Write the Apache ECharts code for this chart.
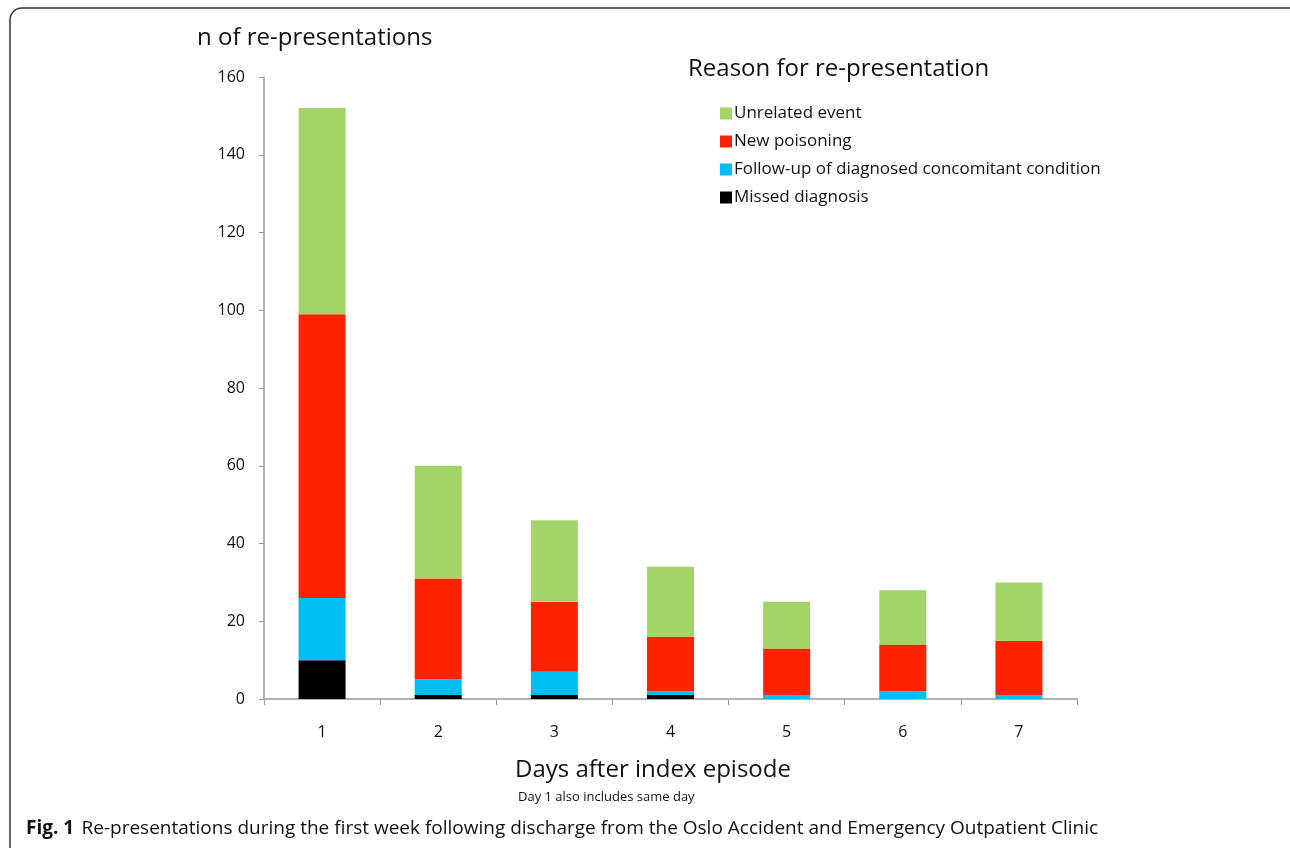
<!DOCTYPE html>
<html>
<head>
<meta charset="utf-8">
<script src="https://cdn.jsdelivr.net/npm/echarts@6/dist/echarts.min.js"></script>
<style>
  html, body { margin: 0; padding: 0; background: #fff; }
  #chart { width: 1290px; height: 848px; }
</style>
</head>
<body>
<div id="chart"></div>
<script>
// data
const days = ['1', '2', '3', '4', '5', '6', '7']
const missedDiagnosis = [10, 1, 1, 1, 0, 0, 0]
const followUp = [16, 4, 6, 1, 1, 2, 1]
const newPoisoning = [73, 26, 18, 14, 12, 12, 14]
const unrelatedEvent = [53, 29, 21, 18, 12, 14, 15]

const font = '"Open Sans", Lato, sans-serif'
const chart = echarts.init(document.getElementById('chart'))

function barSeries (name, data, color) {
  return {
    name: name,
    type: 'bar',
    stack: 'total',
    data: data,
    barWidth: 47,
    itemStyle: { color: color },
    emphasis: { disabled: true }
  }
}

chart.setOption({
  animation: false,
  textStyle: { fontFamily: font },
  grid: { left: 264, right: 213, top: 77, bottom: 149 },
  legend: {
    orient: 'vertical',
    left: 715,
    top: 100,
    itemWidth: 12,
    itemHeight: 12,
    itemGap: 11,
    icon: 'rect',
    data: ['Unrelated event', 'New poisoning', 'Follow-up of diagnosed concomitant condition', 'Missed diagnosis'],
    textStyle: { fontSize: 17, color: '#111', fontFamily: font, padding: [0, 0, 0, -3] }
  },
  xAxis: {
    type: 'category',
    data: days,
    axisLine: { lineStyle: { color: '#999', width: 1.5 } },
    axisTick: { show: true, length: 6, lineStyle: { color: '#999' } },
    axisLabel: { fontSize: 16, color: '#111', margin: 25 }
  },
  yAxis: {
    type: 'value',
    min: 0,
    max: 160,
    interval: 20,
    splitLine: { show: false },
    axisLine: { show: true, lineStyle: { color: '#999', width: 1.5 } },
    axisTick: { show: true, length: 5, lineStyle: { color: '#999' } },
    axisLabel: { fontSize: 16, color: '#111', margin: 19 }
  },
  series: [
    barSeries('Missed diagnosis', missedDiagnosis, '#000000'),
    barSeries('Follow-up of diagnosed concomitant condition', followUp, '#00bdf2'),
    barSeries('New poisoning', newPoisoning, '#ff2200'),
    barSeries('Unrelated event', unrelatedEvent, '#a2d468')
  ],
  graphic: [
    {
      type: 'rect',
      shape: { x: 10, y: 8, width: 1300, height: 860, r: 12 },
      style: { fill: 'none', stroke: '#333', lineWidth: 1.5 },
      silent: true
    },
    {
      type: 'text', left: 197, top: 26,
      style: { text: 'n of re-presentations', fontSize: 24, fill: '#111', fontFamily: font }
    },
    {
      type: 'text', left: 688, top: 57,
      style: { text: 'Reason for re-presentation', fontSize: 24, fill: '#111', fontFamily: font }
    },
    {
      type: 'text', left: 515, top: 758,
      style: { text: 'Days after index episode', fontSize: 24, fill: '#111', fontFamily: font }
    },
    {
      type: 'text', left: 518, top: 791,
      style: { text: 'Day 1 also includes same day', fontSize: 13, fill: '#111', fontFamily: font }
    },
    {
      type: 'text', left: 26, top: 819,
      style: {
        rich: {
          b: { fontSize: 19, fontWeight: 'bold', fill: '#111', fontFamily: font },
          n: { fontSize: 19, fill: '#111', fontFamily: font, padding: [0, 0, 0, 4] }
        },
        text: '{b|Fig. 1} {n|Re-presentations during the first week following discharge from the Oslo Accident and Emergency Outpatient Clinic}'
      }
    }
  ]
})
</script>
</body>
</html>
